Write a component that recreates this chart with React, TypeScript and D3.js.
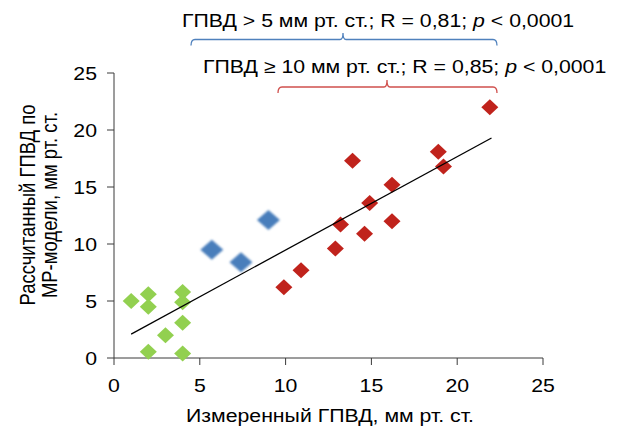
import React from 'react';
import * as d3 from 'd3';

// измеренный / рассчитанный ГПВД, мм рт. ст.
const greenX = [1, 2, 2, 4, 4, 4, 3, 2, 4];
const greenY = [5, 5.6, 4.5, 5.8, 4.9, 3.1, 2, 0.55, 0.4];
const blueX = [5.7, 7.4, 9];
const blueY = [9.5, 8.4, 12.1];
const redX = [21.9, 13.9, 18.9, 19.2, 16.2, 14.9, 16.2, 13.2, 14.6, 12.9, 10.9, 9.9];
const redY = [22, 17.3, 18.1, 16.8, 15.2, 13.6, 12, 11.7, 10.9, 9.6, 7.7, 6.2];
const trendX = [1, 22];
const trendY = [2.1, 19.3];
const ticks = [0, 5, 10, 15, 20, 25];

const xTitle = 'Измеренный ГПВД, мм рт. ст.';
const yTitle = ['Рассчитанный ГПВД по', 'МР-модели, мм рт. ст.'];
const note1 = ['ГПВД > 5 мм рт. ст.; R = 0,81; ', 'p', ' < 0,0001'];
const note2 = ['ГПВД ≥ 10 мм рт. ст.; R = 0,85; ', 'p', ' < 0,0001'];

const W = 621;
const H = 427;
const FONT = 'Liberation Sans, Arial, sans-serif';
const FS = 18.5;
const SX = 1.15; // картинка растянута по горизонтали

const zip = (xs: number[], ys: number[]) => xs.map((x, i) => ({ x, y: ys[i] }));

function diamond(cx: number, cy: number, rx: number, ry: number) {
  return `M${cx},${cy - ry}L${cx + rx},${cy}L${cx},${cy + ry}L${cx - rx},${cy}Z`;
}

function Txt({ x, y, anchor = 'start', children, rotate = 0 }: any) {
  return (
    <g transform={`translate(${x},${y}) scale(${SX},1) rotate(${rotate})`}>
      <text x={0} y={0} textAnchor={anchor} fontFamily={FONT} fontSize={FS} fill="#000">
        {children}
      </text>
    </g>
  );
}

function Note({ x, y, parts }: { x: number; y: number; parts: string[] }) {
  return (
    <Txt x={x} y={y}>
      <tspan>{parts[0]}</tspan>
      <tspan fontStyle="italic">{parts[1]}</tspan>
      <tspan>{parts[2]}</tspan>
    </Txt>
  );
}

function brace(x0: number, x1: number, xm: number, y: number, tip: number, drop: number) {
  return `M${x0},${y + drop}Q${x0},${y} ${x0 + 4},${y}L${xm - 3},${y}Q${xm},${y} ${xm},${tip}` +
    `Q${xm},${y} ${xm + 3},${y}L${x1 - 4},${y}Q${x1},${y} ${x1},${y + drop}`;
}

export default function App() {
  const x = d3.scaleLinear().domain([0, 25]).range([114, 543]);
  const y = d3.scaleLinear().domain([0, 25]).range([358, 73]);

  const line = d3.line<{ x: number; y: number }>()
    .x((d) => x(d.x))
    .y((d) => y(d.y));

  const axisColor = '#3a3a3a';

  return (
    <svg width={W} height={H} style={{ position: 'absolute', left: 0, top: 0, background: '#fff' }}>
      <defs>
        <filter id="soft" x="-20%" y="-20%" width="140%" height="140%">
          <feGaussianBlur stdDeviation="0.9" />
        </filter>
      </defs>

      {/* оси */}
      <line x1={x(0)} x2={x(0)} y1={y(25)} y2={y(0)} stroke={axisColor} />
      <line x1={x(0)} x2={x(25)} y1={y(0)} y2={y(0)} stroke={axisColor} />
      {ticks.map((t) => (
        <g key={'y' + t}>
          <line x1={x(0) - 7} x2={x(0)} y1={y(t)} y2={y(t)} stroke={axisColor} />
          <Txt x={97} y={y(t) + 6.5} anchor="end">{t}</Txt>
        </g>
      ))}
      {ticks.map((t) => (
        <g key={'x' + t}>
          <line x1={x(t)} x2={x(t)} y1={y(0)} y2={y(0) + 7} stroke={axisColor} />
          <Txt x={x(t)} y={392} anchor="middle">{t}</Txt>
        </g>
      ))}

      {/* подписи осей */}
      <Txt x={330} y={422} anchor="middle">{xTitle}</Txt>
      <Txt x={35} y={205} anchor="middle" rotate={-90}>{yTitle[0]}</Txt>
      <Txt x={57} y={205} anchor="middle" rotate={-90}>{yTitle[1]}</Txt>

      {/* точки */}
      {zip(greenX, greenY).map((d, i) => (
        <path key={'g' + i} d={diamond(x(d.x), y(d.y), 8.5, 8)} fill="#92D050" />
      ))}
      {zip(blueX, blueY).map((d, i) => (
        <path key={'b' + i} d={diamond(x(d.x), y(d.y), 11.5, 10)} fill="#4A7EBB" filter="url(#soft)" />
      ))}
      {zip(redX, redY).map((d, i) => (
        <path key={'r' + i} d={diamond(x(d.x), y(d.y), 8.5, 8)} fill="#C0231C" />
      ))}

      {/* линия тренда */}
      <path d={line(zip(trendX, trendY)) || ''} stroke="#000" strokeWidth={1.3} fill="none" />

      {/* аннотации */}
      <Note x={182} y={27} parts={note1} />
      <path d={brace(191, 497, 343, 39.5, 33, 6)} stroke="#4F81BD" strokeWidth={1.3} fill="none" />
      <Note x={203} y={73} parts={note2} />
      <path d={brace(278, 497, 387, 87, 80, 6)} stroke="#D0504D" strokeWidth={1.3} fill="none" />
    </svg>
  );
}
